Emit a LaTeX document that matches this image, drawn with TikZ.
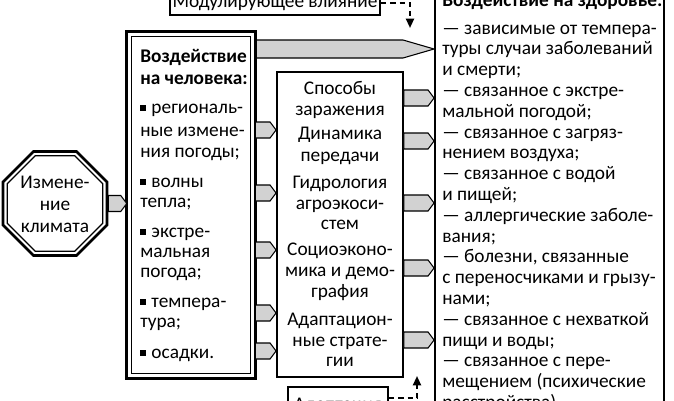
\documentclass[tikz,border=0pt]{standalone}
\usepackage{fontspec}
\setmainfont{Carlito}
\usetikzlibrary{shapes.geometric,arrows.meta,fit,calc}
\definecolor{gfill}{RGB}{210,210,210}
\newcommand{\fsz}{\fontsize{14.5pt}{15.6pt}\selectfont}
\newcommand{\bul}{\raisebox{0.12em}{\rule{0.3em}{0.3em}}\hspace{0.28em}}
\newcommand{\garr}[3]{\draw[garrow] let \p1=#1, \p2=#2 in (\x1,\y1+#3) -- (\x2-4.5pt,\y1+#3) -- (\x2,\y1) -- (\x2-4.5pt,\y1-#3) -- (\x1,\y1-#3) -- cycle;}
\begin{document}
\begin{tikzpicture}[x=0.75pt,y=-0.75pt,
  ltxt/.style={anchor=base west,inner sep=0pt,font=\fsz},
  ctxt/.style={anchor=base,inner sep=0pt,font=\fsz},
  btxt/.style={anchor=base west,inner sep=0pt,font=\fsz\bfseries},
  boxline/.style={draw=black,line width=1.4pt},
  thickbox/.style={draw=black,line width=2pt},
  thinbox/.style={draw=black,line width=1pt},
  garrow/.style={fill=gfill,draw=black,line width=0.8pt,line join=miter},
  dashconn/.style={draw=black,line width=1.5pt,dash pattern=on 4pt off 3pt,-{Triangle[length=7pt,width=6pt]}},
  fitbox/.style={inner sep=0pt,fit={#1}}]

\useasboundingbox (0,0) rectangle (674,400);
\clip (0,0) rectangle (674,400);
\fill[white] (0,0) rectangle (674,400);

% boxes
\node[fitbox={(170,-10) (380,15)}, boxline] (tb) {};
\node[fitbox={(435,-30) (664,430)}, boxline] (hb) {};
\node[fitbox={(127,32) (255,378)}] (lb) {};
\node[fitbox={(277,72) (403,377)}, boxline] (mb) {};
\node[fitbox={(288,387) (388,425)}, boxline] (bb) {};

% big arrow
\draw[garrow] (lb.east |- 0,40) -- (403,40) -- (hb.west |- 0,49) -- (403,58) -- (lb.east |- 0,58) -- cycle;

% left box double border
\draw[thickbox] (lb.north west) rectangle (lb.south east);
\draw[thinbox] ([shift={(4.5,4.5)}]lb.north west) rectangle ([shift={(-4.5,-4.5)}]lb.south east);

% octagon
\node[regular polygon, regular polygon sides=8, minimum size=84.4pt, inner sep=0pt, draw, line width=2pt] (oc) at (55,203.5) {};
\node[regular polygon, regular polygon sides=8, minimum size=77.5pt, inner sep=0pt, draw, line width=0.9pt] (oci) at (oc.center) {};

% small arrows
\garr{(oc.east)}{(lb.west)}{6pt}
\foreach \yy in {130,193,250,313,351} {\garr{(lb.east |- 0,\yy)}{(mb.west |- 0,\yy)}{6pt}}
\foreach \yy in {98,141,203,268,340} {\garr{(mb.east |- 0,\yy)}{(hb.west |- 0,\yy)}{6pt}}

% dashed connectors
\coordinate (tarr) at (410,28);
\draw[dashconn] (tb.east) -| (tarr);
\coordinate (barr) at (417,376);
\draw[dashconn] (bb.east |- 0,398) -| (barr);

% texts
\node[ctxt] (tbt) at (tb.center |- 0,7) {Модулирующее влияние};
\node[ctxt] (bbt) at (bb.center |- 0,410) {Адаптация};

\node[ctxt] (o1) at (55,188) {Измене-};
\node[ctxt] (o2) at (55,210) {ние};
\node[ctxt] (o3) at (55,232) {климата};

\node[btxt] (l1) at (140,62) {Воздействие};
\node[btxt] (l2) at (140,84) {на человека:};
\foreach \yy/\tt [count=\i] in {113/{\bul региональ-},136/{ные измене-},157/{ния погоды;},
  187/{\bul волны},207/{тепла;},237/{\bul экстре-},257/{мальная},277/{погода;},
  307/{\bul темпера-},327/{тура;},358/{\bul осадки.}}
  {\node[ltxt] (lt\i) at (140,\yy) {\tt};}

\foreach \yy/\tt [count=\i] in {94/{Способы},115/{заражения},139/{Динамика},161/{передачи},
  188/{Гидрология},209/{агроэкоси-},229/{стем},255/{Социоэконо-},276/{мика и демо-},
  297/{графия},325/{Адаптацион-},346/{ные страте-},366/{гии}}
  {\node[ctxt] (mt\i) at (340,\yy) {\tt};}

\node[btxt] (hh) at (442,6) {Воздействие на здоровье:};
\foreach \tt [count=\i] in {{— зависимые от темпера-},{туры случаи заболеваний},{и смерти;},
  {— связанное с экстре-},{мальной погодой;},{— связанное с загряз-},{нением воздуха;},
  {— связанное с водой},{и пищей;},{— аллергические заболе-},{вания;},
  {— болезни, связанные},{с переносчиками и грызу-},{нами;},{— связанное с нехваткой},
  {пищи и воды;},{— связанное с пере-},{мещением (психические},{расстройства)}}
  {\node[ltxt] (h\i) at (442,{34+20.8*(\i-1)}) {\tt};}
\end{tikzpicture}
\end{document}
